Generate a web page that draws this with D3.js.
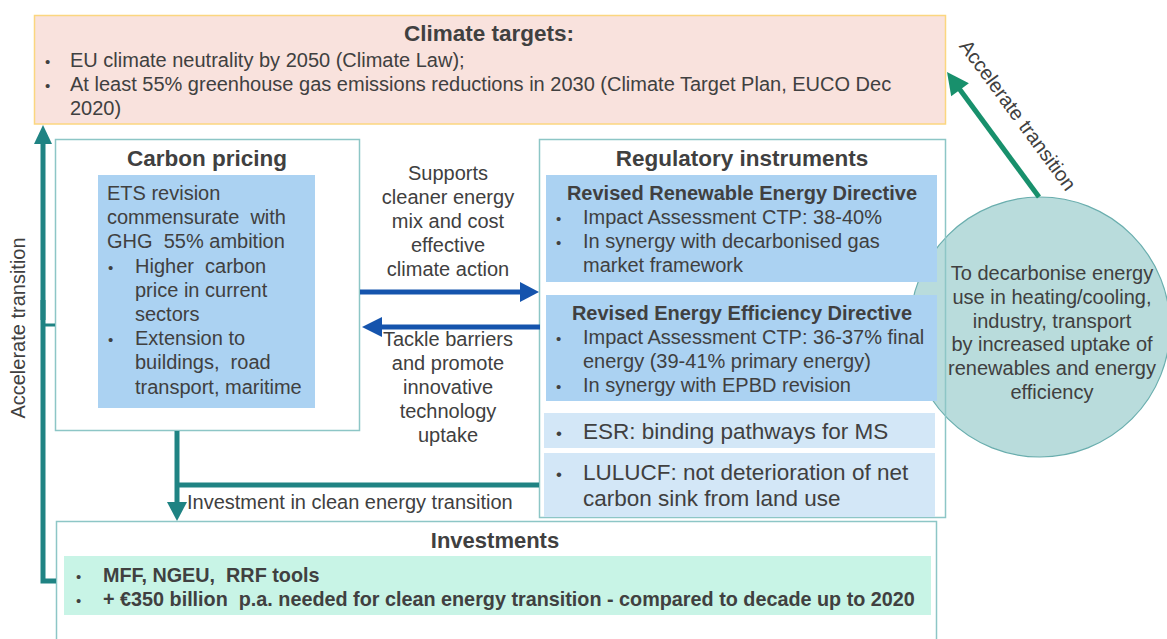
<!DOCTYPE html>
<html>
<head>
<meta charset="utf-8">
<script src="https://cdn.jsdelivr.net/npm/d3@7"></script>
<style>
  html, body { margin: 0; padding: 0; background: #fff; }
  svg text { font-family: "Liberation Sans", Arial, sans-serif; fill: #404040; }
  .title { font-weight: bold; }
</style>
</head>
<body>
<div id="chart"></div>
<script>
/* --- texts --- */
var climateTitle = "Climate targets:"
var climateItems = [
  ["EU climate neutrality by 2050 (Climate Law);"],
  ["At least 55% greenhouse gas emissions reductions in 2030 (Climate Target Plan, EUCO Dec", "2020)"]
]
var carbonTitle = "Carbon pricing"
var carbonIntro = ["ETS revision", "commensurate  with", "GHG  55% ambition"]
var carbonItems = [
  ["Higher  carbon", "price in current", "sectors"],
  ["Extension to", "buildings,  road", "transport, maritime"]
]
var supportsText = ["Supports", "cleaner energy", "mix and cost", "effective", "climate action"]
var tackleText = ["Tackle barriers", "and promote", "innovative", "technology", "uptake"]
var regTitle = "Regulatory instruments"
var redTitle = "Revised Renewable Energy Directive"
var redItems = [
  ["Impact Assessment CTP: 38-40%"],
  ["In synergy with decarbonised gas", "market framework"]
]
var eedTitle = "Revised Energy Efficiency Directive"
var eedItems = [
  ["Impact Assessment CTP: 36-37% final", "energy (39-41% primary energy)"],
  ["In synergy with EPBD revision"]
]
var esrItems = [["ESR: binding pathways for MS"]]
var lulucfItems = [["LULUCF: not deterioration of net", "carbon sink from land use"]]
var circleText = ["To decarbonise energy", "use in heating/cooling,", "industry, transport", "by increased uptake of", "renewables and energy", "efficiency"]
var accelerateLabel = "Accelerate transition"
var investLabel = "Investment in clean energy transition"
var investTitle = "Investments"
var investItems = [
  ["MFF, NGEU,  RRF tools"],
  ["+ €350 billion  p.a. needed for clean energy transition - compared to decade up to 2020"]
]

/* --- svg --- */
var W = 1167, H = 639
var svg = d3.select("#chart").append("svg")
    .attr("width", W)
    .attr("height", H)

var teal = "#1f8383", tealLight = "#8dc6c6", blue = "#1554ad", green = "#18906c"
var fsBody = 20, fsTitle = 22.5

/* draw lines of text, y = vertical centre of first line */
var textLines = function (g, arr, x, y0, lh, fs, anchor, cls) {
  arr.forEach(function (t, i) {
    g.append("text")
        .attr("class", cls || null)
        .attr("x", x)
        .attr("y", y0 + i * lh + fs * 0.35)
        .attr("text-anchor", anchor || "start")
        .style("font-size", fs + "px")
        .style("white-space", "pre")
        .text(t)
  })
}

/* bullet list */
var bulletList = function (g, items, bx, tx, y0, lh, fs, cls) {
  var y = y0
  items.forEach(function (item) {
    g.append("text")
        .attr("x", bx)
        .attr("y", y + fs * 0.35)
        .style("font-size", (fs * 0.75) + "px")
        .text("•")
    textLines(g, item, tx, y, lh, fs, "start", cls)
    y += item.length * lh
  })
}

var box = function (x, y, w, h, fill, stroke, sw) {
  return svg.append("rect")
      .attr("x", x).attr("y", y)
      .attr("width", w).attr("height", h)
      .attr("fill", fill)
      .attr("stroke", stroke || "none")
      .attr("stroke-width", sw || 1.5)
}

/* arrow with a triangular head */
var arrow = function (x1, y1, x2, y2, color, sw, hl, hw) {
  var dx = x2 - x1, dy = y2 - y1
  var len = Math.sqrt(dx * dx + dy * dy)
  var ux = dx / len, uy = dy / len
  var bx = x2 - ux * hl, by = y2 - uy * hl
  svg.append("line")
      .attr("x1", x1).attr("y1", y1)
      .attr("x2", bx + ux).attr("y2", by + uy)
      .attr("stroke", color).attr("stroke-width", sw)
  svg.append("path")
      .attr("d", d3.line()([[x2, y2], [bx - uy * hw, by + ux * hw], [bx + uy * hw, by - ux * hw]]) + "Z")
      .attr("fill", color)
}

/* Climate targets */
box(34.5, 15.5, 911, 108.5, "#f9e2dd", "#fbd67f", 1.5)
var gc = svg.append("g")
textLines(gc, [climateTitle], 489, 33, 0, fsTitle, "middle", "title")
bulletList(gc, climateItems, 45, 70, 60, 24, fsBody)

/* Regulatory instruments frame + circle */
box(539.5, 139.5, 406, 378, "#fff")
svg.append("circle")
    .attr("cx", 1040).attr("cy", 327).attr("r", 130)
    .attr("fill", "#b9dcdc")
    .attr("stroke", "#6aaeae")
    .attr("stroke-width", 1.2)
box(539.5, 139.5, 406, 378, "none", tealLight)

textLines(svg.append("g"), [regTitle], 742, 158, 0, fsTitle, "middle", "title")

box(546, 175, 391, 107, "#abd2f2")
var g1 = svg.append("g")
textLines(g1, [redTitle], 742, 193, 0, fsBody, "middle", "title")
bulletList(g1, redItems, 556, 583, 217, 24, fsBody)

box(546, 295, 391, 106, "#abd2f2")
var g2 = svg.append("g")
textLines(g2, [eedTitle], 742, 313, 0, fsBody, "middle", "title")
bulletList(g2, eedItems, 556, 583, 337, 24, fsBody)

box(544, 413, 391, 35, "#d3e7f7")
box(544, 453, 391, 64, "#d3e7f7")
var g3 = svg.append("g")
bulletList(g3, esrItems, 556, 583, 431, 26, fsTitle)
bulletList(g3, lulucfItems, 556, 583, 472, 26, fsTitle)

textLines(svg.append("g"), circleText, 1052, 273, 23.8, fsBody, "middle")

/* Carbon pricing */
box(55.5, 139.5, 304, 291, "#fff", tealLight)
box(98, 175, 217, 233, "#abd2f2")
var gp = svg.append("g")
textLines(gp, [carbonTitle], 207, 158, 0, fsTitle, "middle", "title")
textLines(gp, carbonIntro, 107, 193, 24.2, fsBody)
bulletList(gp, carbonItems, 108, 135, 265.5, 24.2, fsBody)

/* middle texts + blue arrows */
var gm = svg.append("g")
textLines(gm, supportsText, 448, 173, 24, fsBody, "middle")
textLines(gm, tackleText, 448, 339, 24.1, fsBody, "middle")
arrow(360, 292, 539, 292, blue, 5, 19, 10)
arrow(540, 327, 362, 327, blue, 5, 20, 10)

/* Investments */
box(56.5, 521.5, 880, 130, "#fff", tealLight)
box(64, 556, 867, 59, "#c8f4e6")
var gi = svg.append("g")
textLines(gi, [investTitle], 495, 540, 0, 22, "middle", "title")
bulletList(gi, investItems, 76, 103, 575, 24, 19.8, "title")

/* teal connectors */
svg.append("line")
    .attr("x1", 177).attr("y1", 485).attr("x2", 539).attr("y2", 485)
    .attr("stroke", teal).attr("stroke-width", 5)
arrow(177, 431, 177, 521, teal, 5, 19, 10)
textLines(svg.append("g"), [investLabel], 187, 502, 0, fsBody, "start")

/* left loop: Investments -> Climate targets */
svg.append("path")
    .attr("d", d3.line()([[56, 581], [43, 581], [43, 300]]))
    .attr("fill", "none")
    .attr("stroke", teal).attr("stroke-width", 5)
arrow(43, 320, 43, 125, teal, 5, 19, 9)
svg.append("line")
    .attr("x1", 43).attr("y1", 325).attr("x2", 55).attr("y2", 325)
    .attr("stroke", teal).attr("stroke-width", 3)
svg.append("text")
    .attr("transform", "translate(25,328) rotate(-90)")
    .attr("text-anchor", "middle")
    .style("font-size", fsBody + "px")
    .text(accelerateLabel)

/* circle -> Climate targets */
arrow(1039, 197, 947, 72, green, 5, 22, 11)
svg.append("text")
    .attr("transform", "translate(1018,115) rotate(53.6)")
    .attr("text-anchor", "middle")
    .attr("dy", "0.35em")
    .style("font-size", fsBody + "px")
    .text(accelerateLabel)
</script>
</body>
</html>
